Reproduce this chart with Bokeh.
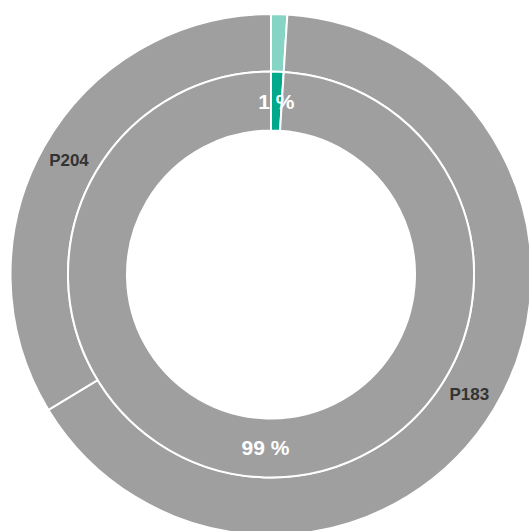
import numpy as np
from bokeh.plotting import figure
from bokeh.models import ColumnDataSource
from bokeh.core.properties import value
from bokeh.embed import file_html
from bokeh.resources import INLINE

# Outer ring: share per category (percent)
outer_labels = ["", "P183", "P204"]
outer_values = [1.0, 65.3, 33.7]
outer_colors = ["#86d4c4", "#9f9f9f", "#9f9f9f"]

# Inner ring: share per group (percent)
inner_labels = ["1 %", "99 %"]
inner_values = [1.0, 99.0]
inner_colors = ["#00a98b", "#9f9f9f"]

HOLE_R = 144
MID_R = 203
OUTER_R = 260.5


def ring(values, labels, colors, r_in, r_out):
    v = np.asarray(values, dtype=float)
    frac = v / v.sum()
    ends = np.cumsum(frac)
    starts = ends - frac
    # clockwise from 12 o'clock
    start_ang = np.pi / 2 - 2 * np.pi * starts
    end_ang = np.pi / 2 - 2 * np.pi * ends
    mid_ang = (start_ang + end_ang) / 2
    r_lab = (r_in + r_out) / 2
    return ColumnDataSource(dict(
        start=start_ang, end=end_ang, color=colors, label=labels,
        lx=r_lab * np.cos(mid_ang), ly=r_lab * np.sin(mid_ang),
    ))


outer_src = ring(outer_values, outer_labels, outer_colors, MID_R, OUTER_R)
inner_src = ring(inner_values, inner_labels, inner_colors, HOLE_R, MID_R)

p = figure(width=529, height=531, x_range=(-270.5, 258.5), y_range=(-257, 274),
           output_backend="svg", toolbar_location=None, min_border=0)
p.axis.visible = False
p.grid.visible = False
p.outline_line_color = None
p.background_fill_color = "white"
p.border_fill_color = "white"

p.annular_wedge(x=0, y=0, inner_radius=MID_R, outer_radius=OUTER_R,
                start_angle="start", end_angle="end", direction="clock",
                fill_color="color", line_color="white", line_width=2,
                source=outer_src)
p.annular_wedge(x=0, y=0, inner_radius=HOLE_R, outer_radius=MID_R,
                start_angle="start", end_angle="end", direction="clock",
                fill_color="color", line_color="white", line_width=2,
                source=inner_src)

p.text(x="lx", y="ly", text="label", source=outer_src,
       text_font=value("Liberation Sans"), text_font_style="bold",
       text_font_size="17px", text_color="#333333",
       text_align="center", text_baseline="middle")
p.text(x="lx", y="ly", text="label", source=inner_src,
       text_font=value("Liberation Sans"), text_font_style="bold",
       text_font_size="21px", text_color="white",
       text_align="center", text_baseline="middle")

open("out.html", "w").write(file_html(p, INLINE))
